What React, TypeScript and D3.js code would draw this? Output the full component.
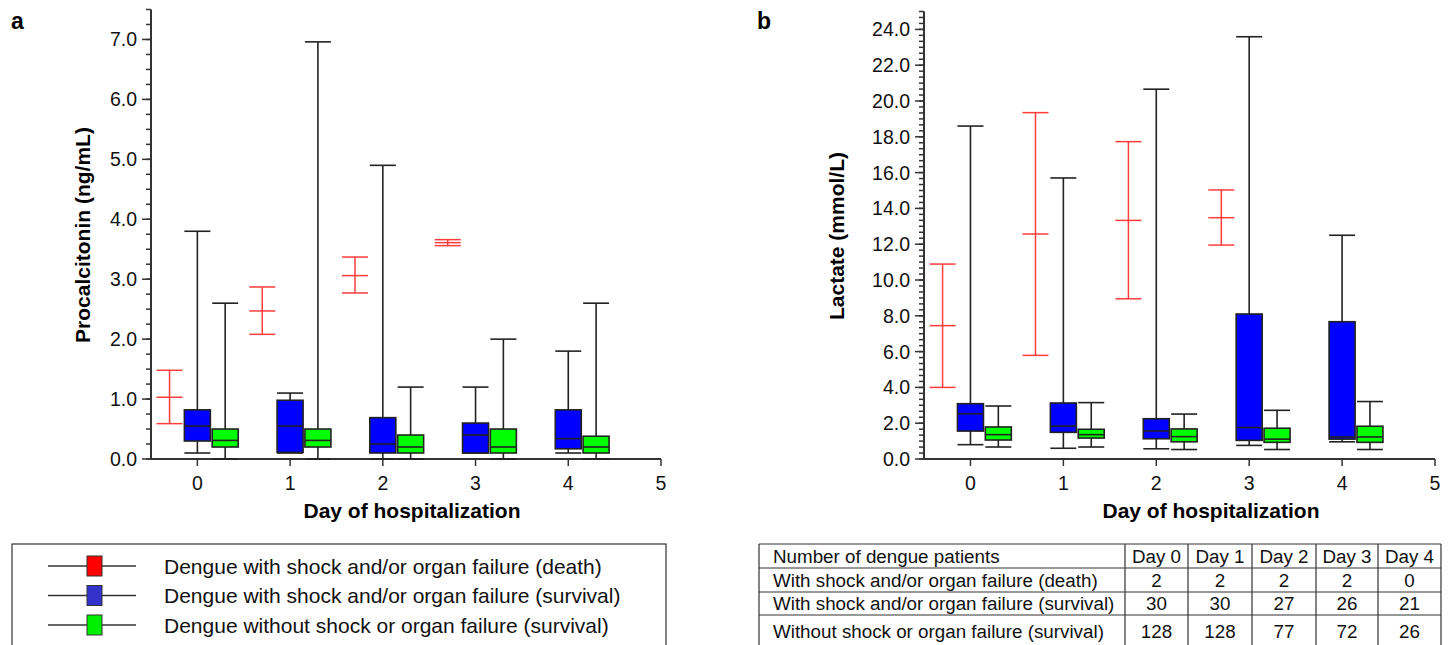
import React, { useEffect, useRef } from "react";
import * as d3 from "d3";

// days on the x axis
const days = [0, 1, 2, 3, 4];

// Procalcitonin (ng/mL): death group shown as [low, mean, high]
const pctDeath = [
  [0.59, 1.03, 1.48],
  [2.08, 2.47, 2.87],
  [2.77, 3.06, 3.37],
  [3.56, 3.61, 3.66],
];
// box plots [min, q1, median, q3, max]
const pctShock = [
  [0.1, 0.3, 0.55, 0.82, 3.8],
  [0.1, 0.11, 0.55, 0.98, 1.1],
  [0.0, 0.1, 0.25, 0.69, 4.9],
  [0.1, 0.1, 0.4, 0.6, 1.2],
  [0.1, 0.17, 0.34, 0.82, 1.8],
];
const pctNoShock = [
  [0.0, 0.2, 0.31, 0.5, 2.6],
  [0.0, 0.2, 0.31, 0.5, 6.96],
  [0.0, 0.1, 0.2, 0.4, 1.2],
  [0.0, 0.1, 0.2, 0.5, 2.0],
  [0.0, 0.1, 0.2, 0.38, 2.6],
];

// Lactate (mmol/L)
const lacDeath = [
  [4.0, 7.45, 10.89],
  [5.79, 12.57, 19.35],
  [8.95, 13.33, 17.73],
  [11.95, 13.48, 15.03],
];
const lacShock = [
  [0.8, 1.56, 2.53, 3.09, 18.6],
  [0.6, 1.49, 1.84, 3.13, 15.7],
  [0.57, 1.13, 1.57, 2.25, 20.66],
  [0.76, 1.04, 1.76, 8.1, 23.59],
  [0.96, 1.11, 1.23, 7.67, 12.5],
];
const lacNoShock = [
  [0.67, 1.06, 1.36, 1.79, 2.96],
  [0.67, 1.17, 1.36, 1.66, 3.15],
  [0.53, 0.96, 1.25, 1.68, 2.51],
  [0.53, 0.93, 1.11, 1.72, 2.72],
  [0.53, 0.93, 1.23, 1.83, 3.21],
];

const legendLabels = [
  "Dengue with shock and/or organ failure (death)",
  "Dengue with shock and/or organ failure (survival)",
  "Dengue without shock or organ failure (survival)",
];
const legendColors = ["#ff0000", "#3333cc", "#00ee00"];

const tableHeader = ["Number of dengue patients", "Day 0", "Day 1", "Day 2", "Day 3", "Day 4"];
const tableRowLabels = [
  "With shock and/or organ failure (death)",
  "With shock and/or organ failure (survival)",
  "Without shock or organ failure (survival)",
];
const countDeath = [2, 2, 2, 2, 0];
const countShock = [30, 30, 27, 26, 21];
const countNoShock = [128, 128, 77, 72, 26];

const FONT = "'Liberation Sans', Arial, sans-serif";
const INK = "#222";
const RED = "#ff3c3c";

const drawPanel = (svg, cfg) => {
  const x = d3.scaleLinear().domain([-0.5, 5]).range(cfg.xRange);
  const y = d3.scaleLinear().domain([0, cfg.yMax]).range(cfg.yRange);
  const g = svg.append("g");
  const half = 13; // half box width, px

  // axes
  g.append("line")
    .attr("x1", x(-0.5)).attr("x2", x(-0.5))
    .attr("y1", y(0)).attr("y2", y(cfg.yMax))
    .attr("stroke", "#333").attr("stroke-width", 2);
  g.append("line")
    .attr("x1", x(-0.5)).attr("x2", x(5))
    .attr("y1", y(0)).attr("y2", y(0))
    .attr("stroke", "#333").attr("stroke-width", 2);

  // minor + major y ticks
  g.selectAll(".minor")
    .data(d3.range(0, cfg.minorCount + 1))
    .enter()
    .append("line")
    .attr("x1", x(-0.5) - 5).attr("x2", x(-0.5))
    .attr("y1", (i) => y((i * cfg.yMax) / cfg.minorCount))
    .attr("y2", (i) => y((i * cfg.yMax) / cfg.minorCount))
    .attr("stroke", "#333").attr("stroke-width", 1.5);
  g.selectAll(".major")
    .data(cfg.majors)
    .enter()
    .append("line")
    .attr("x1", x(-0.5) - 9).attr("x2", x(-0.5))
    .attr("y1", (d) => y(d)).attr("y2", (d) => y(d))
    .attr("stroke", "#333").attr("stroke-width", 1.5);
  g.selectAll(".ylab")
    .data(cfg.majors)
    .enter()
    .append("text")
    .attr("x", x(-0.5) - 14)
    .attr("y", (d) => y(d))
    .attr("dy", "0.36em")
    .attr("text-anchor", "end")
    .attr("font-size", 19.5)
    .attr("font-family", FONT)
    .attr("fill", "#111")
    .text((d) => d3.format(".1f")(d));

  // x ticks 0..5
  const xt = d3.range(0, 6);
  g.selectAll(".xt")
    .data(xt)
    .enter()
    .append("line")
    .attr("x1", (d) => x(d)).attr("x2", (d) => x(d))
    .attr("y1", y(0)).attr("y2", y(0) + 7)
    .attr("stroke", "#333").attr("stroke-width", 1.5);
  g.selectAll(".xl")
    .data(xt)
    .enter()
    .append("text")
    .attr("x", (d) => x(d))
    .attr("y", y(0) + 31)
    .attr("text-anchor", "middle")
    .attr("font-size", 19.5)
    .attr("font-family", FONT)
    .attr("fill", "#111")
    .text((d) => d);

  // titles
  g.append("text")
    .attr("x", cfg.xTitleX).attr("y", 518)
    .attr("text-anchor", "middle")
    .attr("font-size", 21).attr("font-weight", "bold")
    .attr("font-family", FONT)
    .text("Day of hospitalization");
  g.append("text")
    .attr("transform", `translate(${cfg.yTitle[0]},${cfg.yTitle[1]}) rotate(-90)`)
    .attr("text-anchor", "middle")
    .attr("dy", "0.35em")
    .attr("font-size", 21).attr("font-weight", "bold")
    .attr("font-family", FONT)
    .text(cfg.yLabel);
  g.append("text")
    .attr("x", cfg.letter[0]).attr("y", cfg.letter[1])
    .attr("font-size", 23).attr("font-weight", "bold")
    .attr("font-family", FONT)
    .text(cfg.letterText);

  // death group: error bars (low, mean, high)
  cfg.death.forEach((d, i) => {
    const cx = x(days[i] - 0.3);
    const eg = g.append("g").attr("stroke", RED).attr("stroke-width", 1.5);
    eg.append("line").attr("x1", cx).attr("x2", cx).attr("y1", y(d[0])).attr("y2", y(d[2]));
    d.forEach((v) => {
      eg.append("line").attr("x1", cx - half).attr("x2", cx + half).attr("y1", y(v)).attr("y2", y(v));
    });
  });

  // box plots
  const drawBoxes = (data, offset, fill) => {
    data.forEach((d, i) => {
      const cx = x(days[i] + offset);
      const bg = g.append("g").attr("stroke", INK).attr("stroke-width", 1.6);
      bg.append("line").attr("x1", cx).attr("x2", cx).attr("y1", y(d[0])).attr("y2", y(d[4]));
      bg.append("line").attr("x1", cx - half).attr("x2", cx + half).attr("y1", y(d[0])).attr("y2", y(d[0]));
      bg.append("line").attr("x1", cx - half).attr("x2", cx + half).attr("y1", y(d[4])).attr("y2", y(d[4]));
      bg.append("rect")
        .attr("x", cx - half).attr("width", half * 2)
        .attr("y", y(d[3])).attr("height", y(d[1]) - y(d[3]))
        .attr("fill", fill);
      bg.append("line").attr("x1", cx - half).attr("x2", cx + half).attr("y1", y(d[2])).attr("y2", y(d[2]));
    });
  };
  drawBoxes(cfg.shock, 0, "#0000ff");
  drawBoxes(cfg.noShock, 0.3, "#00ff00");
};

const App = () => {
  const ref = useRef(null);

  useEffect(() => {
    document.body.style.margin = "0";
    const svg = d3.select(ref.current);
    svg.selectAll("*").remove();

    drawPanel(svg, {
      xRange: [151, 661],
      yRange: [459, 9.5],
      yMax: 7.5,
      majors: d3.range(0, 8),
      minorCount: 30,
      death: pctDeath,
      shock: pctShock,
      noShock: pctNoShock,
      xTitleX: 412,
      yTitle: [83, 235],
      yLabel: "Procalcitonin (ng/mL)",
      letter: [11, 29],
      letterText: "a",
    });
    drawPanel(svg, {
      xRange: [924, 1435],
      yRange: [459, 11.5],
      yMax: 25,
      majors: d3.range(0, 25, 2),
      minorCount: 75,
      death: lacDeath,
      shock: lacShock,
      noShock: lacNoShock,
      xTitleX: 1211,
      yTitle: [837, 236],
      yLabel: "Lactate (mmol/L)",
      letter: [757, 29],
      letterText: "b",
    });

    // legend box
    const lg = svg.append("g");
    lg.append("rect")
      .attr("x", 12).attr("y", 544).attr("width", 654).attr("height", 120)
      .attr("fill", "none").attr("stroke", "#333").attr("stroke-width", 1.2);
    legendLabels.forEach((label, i) => {
      const cy = 566 + i * 29.5;
      lg.append("line").attr("x1", 48).attr("x2", 136).attr("y1", cy).attr("y2", cy)
        .attr("stroke", "#333").attr("stroke-width", 1.3);
      lg.append("rect").attr("x", 87).attr("y", cy - 10).attr("width", 15).attr("height", 20)
        .attr("fill", legendColors[i]).attr("stroke", "#333").attr("stroke-width", 1);
      lg.append("text").attr("x", 164).attr("y", cy).attr("dy", "0.36em")
        .attr("font-size", 21).attr("font-family", FONT).attr("fill", "#111")
        .text(label);
    });

    // table
    const tg = svg.append("g");
    const colX = [759, 1125, 1188, 1252, 1316, 1378, 1441];
    const rowY = [544, 568, 592, 615, 650];
    const rows = [
      tableHeader,
      [tableRowLabels[0], ...countDeath],
      [tableRowLabels[1], ...countShock],
      [tableRowLabels[2], ...countNoShock],
    ];
    rowY.forEach((ry) => {
      tg.append("line").attr("x1", colX[0]).attr("x2", colX[6]).attr("y1", ry).attr("y2", ry)
        .attr("stroke", "#333").attr("stroke-width", 1.2);
    });
    colX.forEach((cx) => {
      tg.append("line").attr("x1", cx).attr("x2", cx).attr("y1", rowY[0]).attr("y2", rowY[4])
        .attr("stroke", "#333").attr("stroke-width", 1.2);
    });
    rows.forEach((row, r) => {
      const cy = r < 3 ? (rowY[r] + rowY[r + 1]) / 2 : 631;
      row.forEach((cell, c) => {
        tg.append("text")
          .attr("x", c === 0 ? colX[0] + 14 : (colX[c] + colX[c + 1]) / 2)
          .attr("y", cy).attr("dy", "0.36em")
          .attr("text-anchor", c === 0 ? "start" : "middle")
          .attr("font-size", 18.8).attr("font-family", FONT).attr("fill", "#111")
          .text(cell);
      });
    });
  }, []);

  return <svg ref={ref} width={1455} height={645} style={{ display: "block", background: "#fff" }} />;
};

export default App;
